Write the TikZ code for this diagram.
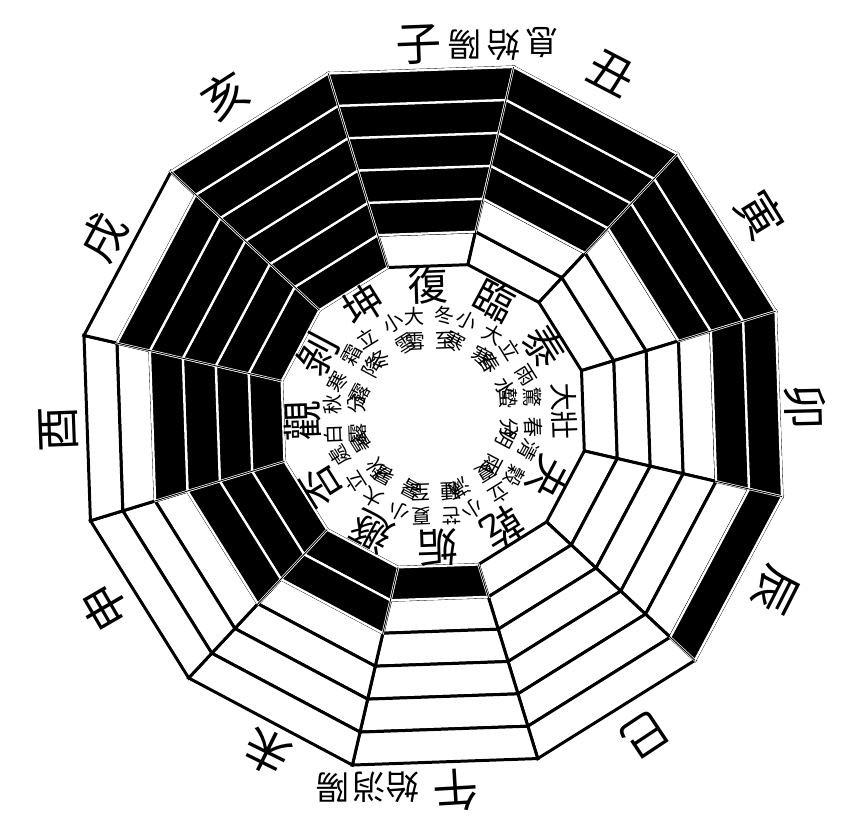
\documentclass[tikz,border=0pt]{standalone}
\usepackage{fontspec}
\newfontfamily\cjk{Noto Sans CJK TC}
\usepackage{tikz}
\usetikzlibrary{calc}

\tikzstyle{yangline} = [fill=white, draw=black, line width=1.7pt]
\tikzstyle{yinline} = [fill=black, draw=white, line width=1.3pt]
\tikzstyle{spoke} = [draw=black, line width=0.5pt]
\tikzstyle{branch} = [inner sep=0pt, font=\cjk\fontsize{26}{26}\selectfont]
\tikzstyle{note} = [inner sep=0pt, rotate=180, font=\cjk\fontsize{19}{19}\selectfont]
\tikzstyle{guaname} = [inner sep=0pt, font=\cjk\fontsize{23}{23}\selectfont]
\tikzstyle{jieqi} = [inner sep=0pt, align=center, font=\cjk\fontsize{11.5}{14}\selectfont]

\newcommand{\twoname}[1]{{\fontsize{16}{16}\selectfont #1}}

\begin{document}
\begin{tikzpicture}[x=0.2mm, y=0.2mm]
  \useasboundingbox (-433,-423) rectangle (429,416);

  % six lines in every sector, yang ones first
  \foreach \k in {0,...,11} {
    \foreach \i in {0,...,5} {
      \pgfmathsetmacro\ta{107-30*\k}
      \pgfmathsetmacro\tb{77-30*\k}
      \pgfmathsetmacro\ra{(150+32.667*\i)*1.03528}
      \pgfmathsetmacro\rb{(182.667+32.667*\i)*1.03528}
      \draw[yangline] (\ta:\ra) -- (\ta:\rb) -- (\tb:\rb) -- (\tb:\ra) -- cycle;
    }
  }

  % yin lines on top
  \foreach \k in {0,...,11} {
    \foreach \i in {0,...,5} {
      \pgfmathtruncatemacro\yin{(\k<6)*(\i>\k)+(\k>5)*(\i<\k-5)}
      \ifnum\yin=1
        \pgfmathsetmacro\ta{107-30*\k}
        \pgfmathsetmacro\tb{77-30*\k}
        \pgfmathsetmacro\ra{(150+32.667*\i)*1.03528}
        \pgfmathsetmacro\rb{(182.667+32.667*\i)*1.03528}
        \draw[yinline] (\ta:\ra) -- (\ta:\rb) -- (\tb:\rb) -- (\tb:\ra) -- cycle;
      \fi
    }
  }

  % sector borders
  \foreach \k in {0,...,11}
    \draw[spoke] ({107-30*\k}:155.29) -- ({107-30*\k}:358.21);

  % hexagram names and their two solar terms
  \foreach \gname/\sa/\sb/\sc/\sd [count=\n from 0] in {復/大/雪/冬/至, 臨/小/寒/大/寒, 泰/立/春/雨/水, \twoname{大壯}/驚/蟄/春/分, 夬/清/明/穀/雨, 乾/立/夏/小/滿, 姤/芒/種/夏/至, 遯/小/暑/大/暑, 否/立/秋/處/暑, 觀/白/露/秋/分, 剝/寒/露/霜/降, 坤/立/冬/小/雪} {
    \begin{scope}[rotate={2-30*\n}, transform shape]
      \node[guaname] (gua\n) at (0,131) {\gname};
      \node[jieqi] (jiea\n) at (-15,88) {\sa\\\sb};
      \node[jieqi] (jieb\n) at (15,88) {\sc\\\sd};
    \end{scope}
  }

  % earthly branches round the rim
  \foreach \a/\r/\b [count=\n] in {92.2/372/子, 62.5/386/丑, 31.6/384/寅, 1.4/372/卯, -27/384/辰, -56.4/383/巳, -86.6/375/午, -116.3/375/未, -149.8/380/申, 182.1/375/酉, 151.5/375/戌, 122.9/382/亥}
    \node[branch, rotate=\a-90] (branch\n) at (\a:\r) {\b};

  % notes beside zi and wu
  \node[note] (ziyang) at (32,371) {陽};
  \node[note] (zishi) at (71,371) {始};
  \node[note] (zixi) at (109,373) {息};
  \node[note] (wushi) at (-30,-371) {始};
  \node[note] (wuxiao) at (-64,-371) {消};
  \node[note] (wuyang) at (-100,-372) {陽};

\end{tikzpicture}
\end{document}
